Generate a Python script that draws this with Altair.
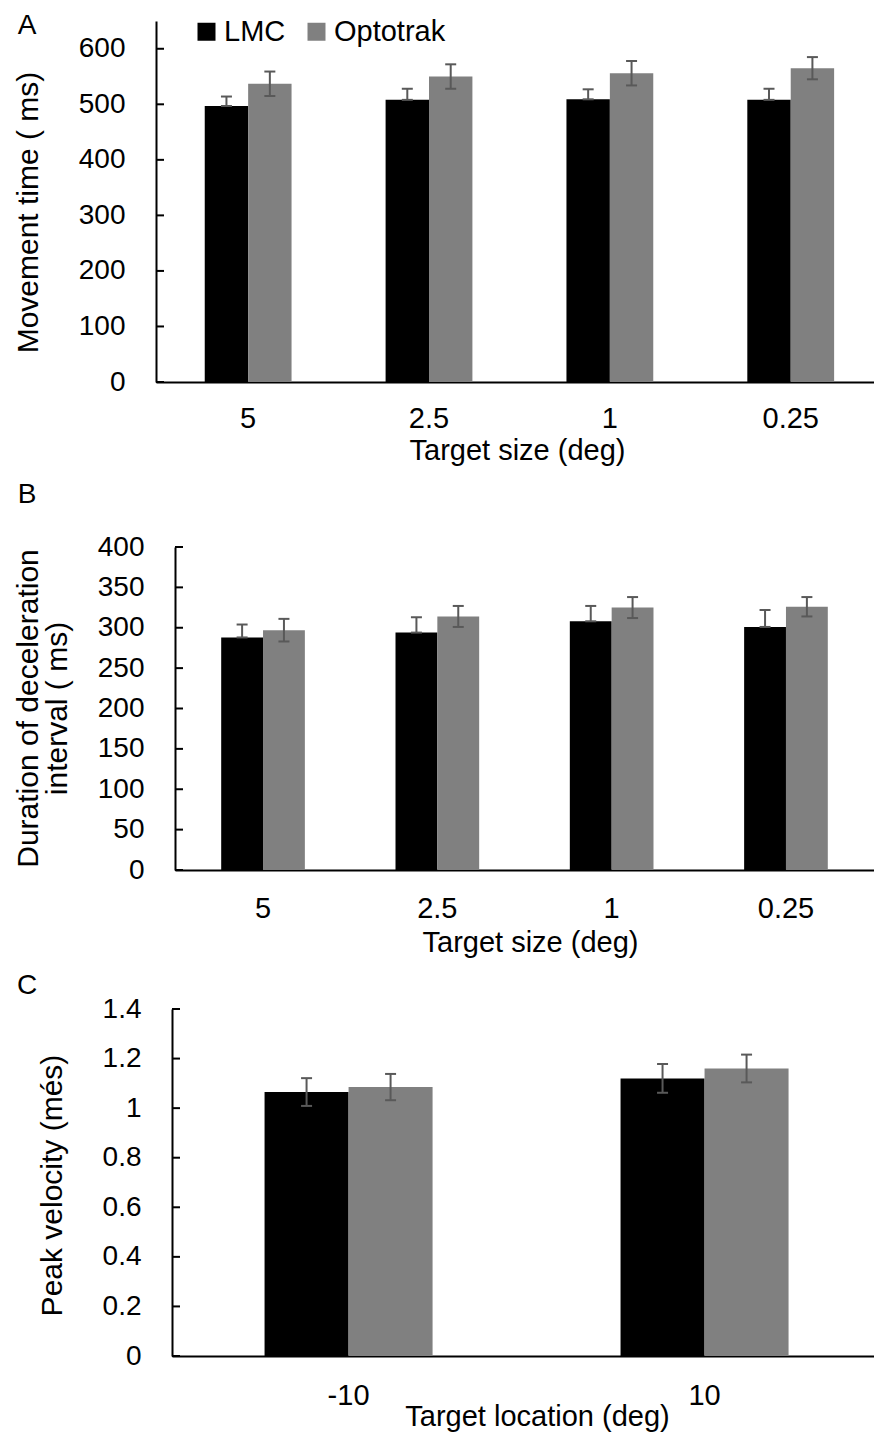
import altair as alt
import pandas as pd

FONT = "Liberation Sans"
SERIES = ["LMC", "Optotrak"]
COLORS = ["#000000", "#808080"]
ERR_COLOR = "#595959"
W, H = 874, 1432

# Panel A: movement time
a_cats = ["5", "2.5", "1", "0.25"]
a_lmc_mean = [497, 508, 509, 508]
a_lmc_up = [17, 20, 18, 20]
a_lmc_down = [0, 0, 0, 0]
a_opt_mean = [537, 550, 556, 565]
a_opt_up = [22, 22, 22, 20]
a_opt_down = [22, 22, 22, 20]
a_ticks = [0, 100, 200, 300, 400, 500, 600]

# Panel B: duration of deceleration interval
b_cats = ["5", "2.5", "1", "0.25"]
b_lmc_mean = [288, 294, 308, 301]
b_lmc_up = [16, 19, 19, 21]
b_lmc_down = [0, 0, 0, 0]
b_opt_mean = [297, 314, 325, 326]
b_opt_up = [14, 13, 13, 12]
b_opt_down = [14, 13, 13, 12]
b_ticks = [0, 50, 100, 150, 200, 250, 300, 350, 400]

# Panel C: peak velocity
c_cats = ["-10", "10"]
c_lmc_mean = [1.065, 1.12]
c_lmc_up = [0.056, 0.058]
c_lmc_down = [0.056, 0.058]
c_opt_mean = [1.085, 1.16]
c_opt_up = [0.053, 0.056]
c_opt_down = [0.053, 0.056]
c_ticks = [0, 0.2, 0.4, 0.6, 0.8, 1.0, 1.2, 1.4]


def make_df(cats, lm, lu, ld, om, ou, od):
    rows = []
    for i, c in enumerate(cats):
        rows.append(dict(cat=c, series="LMC", mean=lm[i], hi=lm[i] + lu[i], lo=lm[i] - ld[i]))
        rows.append(dict(cat=c, series="Optotrak", mean=om[i], hi=om[i] + ou[i], lo=om[i] - od[i]))
    return pd.DataFrame(rows)


def panel(df, cats, ticks, ydomain, left, top, bottom, xscale, ytitle, ytx, yty,
          xtitle, xtx, xty, lpad, legend):
    xenc = alt.X("cat:N", sort=cats, scale=alt.Scale(range=[left, W], **xscale),
                 axis=alt.Axis(title=xtitle, orient="bottom", offset=bottom - H,
                               labelAngle=0, ticks=False, tickSize=0,
                               labelPadding=lpad, titleX=xtx, titleY=xty,
                               titleAlign="center", titleBaseline="alphabetic",
                               titleAngle=0, labelFontSize=29, titleFontSize=29))
    xoff = alt.XOffset("series:N", sort=SERIES,
                       scale=alt.Scale(paddingInner=0, paddingOuter=0))
    yscale = alt.Scale(domain=ydomain, range=[bottom, top], nice=False, zero=True)
    yaxis = alt.Axis(title=ytitle, orient="left", offset=-left, values=ticks,
                     ticks=False, tickSize=0, labelPadding=31, grid=False,
                     labelExpr="'' + datum.value", titleX=ytx, titleY=yty,
                     titleAlign="center", titleBaseline="middle", titleAngle=270,
                     titleLineHeight=29, labelFontSize=28, titleFontSize=30)
    if legend:
        leg = alt.Legend(title=None, orient="none", legendX=192, legendY=17,
                         direction="horizontal", symbolType="square", symbolSize=324,
                         symbolStrokeWidth=0, labelFontSize=29, labelFont=FONT,
                         labelOffset=3, columnPadding=16, padding=0, labelColor="#000",
                         symbolOpacity=1)
    else:
        leg = None
    color = alt.Color("series:N", sort=SERIES,
                      scale=alt.Scale(domain=SERIES, range=COLORS), legend=leg)

    base = alt.Chart(df)
    bars = base.mark_bar().encode(
        x=xenc, xOffset=xoff,
        y=alt.Y("mean:Q", scale=yscale, axis=yaxis),
        color=color,
    )
    err = base.mark_rule(color=ERR_COLOR, strokeWidth=2).encode(
        x=alt.X("cat:N", sort=cats), xOffset=xoff,
        y=alt.Y("lo:Q"), y2="hi:Q")
    cap_hi = base.mark_tick(color=ERR_COLOR, size=11, thickness=2, opacity=1).encode(
        x=alt.X("cat:N", sort=cats), xOffset=xoff, y=alt.Y("hi:Q"))
    cap_lo = base.mark_tick(color=ERR_COLOR, size=11, thickness=2, opacity=1).encode(
        x=alt.X("cat:N", sort=cats), xOffset=xoff, y=alt.Y("lo:Q"))
    tickdf = pd.DataFrame({"v": ticks})
    inner = alt.Chart(tickdf).mark_rule(color="#000", strokeWidth=2).encode(
        y=alt.Y("v:Q"), x=alt.value(left), x2=alt.value(left + 8))
    return alt.layer(bars, err, cap_hi, cap_lo, inner)


def letter(t, x, y):
    return alt.Chart(alt.Data(values=[{"k": 1}])).mark_text(
        text=t, fontSize=28, font=FONT, color="#000", align="center",
        baseline="alphabetic").encode(x=alt.value(x), y=alt.value(y))


dfa = make_df(a_cats, a_lmc_mean, a_lmc_up, a_lmc_down, a_opt_mean, a_opt_up, a_opt_down)
dfb = make_df(b_cats, b_lmc_mean, b_lmc_up, b_lmc_down, b_opt_mean, b_opt_up, b_opt_down)
dfc = make_df(c_cats, c_lmc_mean, c_lmc_up, c_lmc_down, c_opt_mean, c_opt_up, c_opt_down)

pa = panel(dfa, a_cats, a_ticks, [0, 650], 156, 21, 382,
           dict(paddingInner=0.52, paddingOuter=0.245, align=0.55),
           "Movement time ( ms)", -128, 212,
           "Target size (deg)", 517, 77, 22, True)
pb = panel(dfb, b_cats, b_ticks, [0, 400], 175, 547, 870,
           dict(paddingInner=0.52, paddingOuter=0.265, align=0.5),
           ["Duration of deceleration", "interval ( ms)"], -147, 708,
           "Target size (deg)", 530, 81, 24, False)
pc = panel(dfc, c_cats, c_ticks, [0, 1.4], 172, 1009, 1356,
           dict(paddingInner=0.528, paddingOuter=0.25, align=0.52),
           "Peak velocity (més)", -120, 1185,
           "Target location (deg)", 537, 69, 25, False)

chart = alt.layer(
    pa, pb, pc, letter("A", 27, 34), letter("B", 27, 503), letter("C", 27, 994)
).resolve_scale(
    x="independent", y="independent", color="independent", xOffset="independent"
).properties(
    width=W, height=H, padding=0, background="#ffffff",
    autosize=alt.AutoSizeParams(type="none"),
).configure(font=FONT).configure_view(stroke=None).configure_axis(
    labelFont=FONT, titleFont=FONT,
    labelColor="#000", titleColor="#000", titleFontWeight="normal",
    domainColor="#000", domainWidth=2,
)

chart.save("out.html", embed_options={"renderer": "svg", "actions": False})
